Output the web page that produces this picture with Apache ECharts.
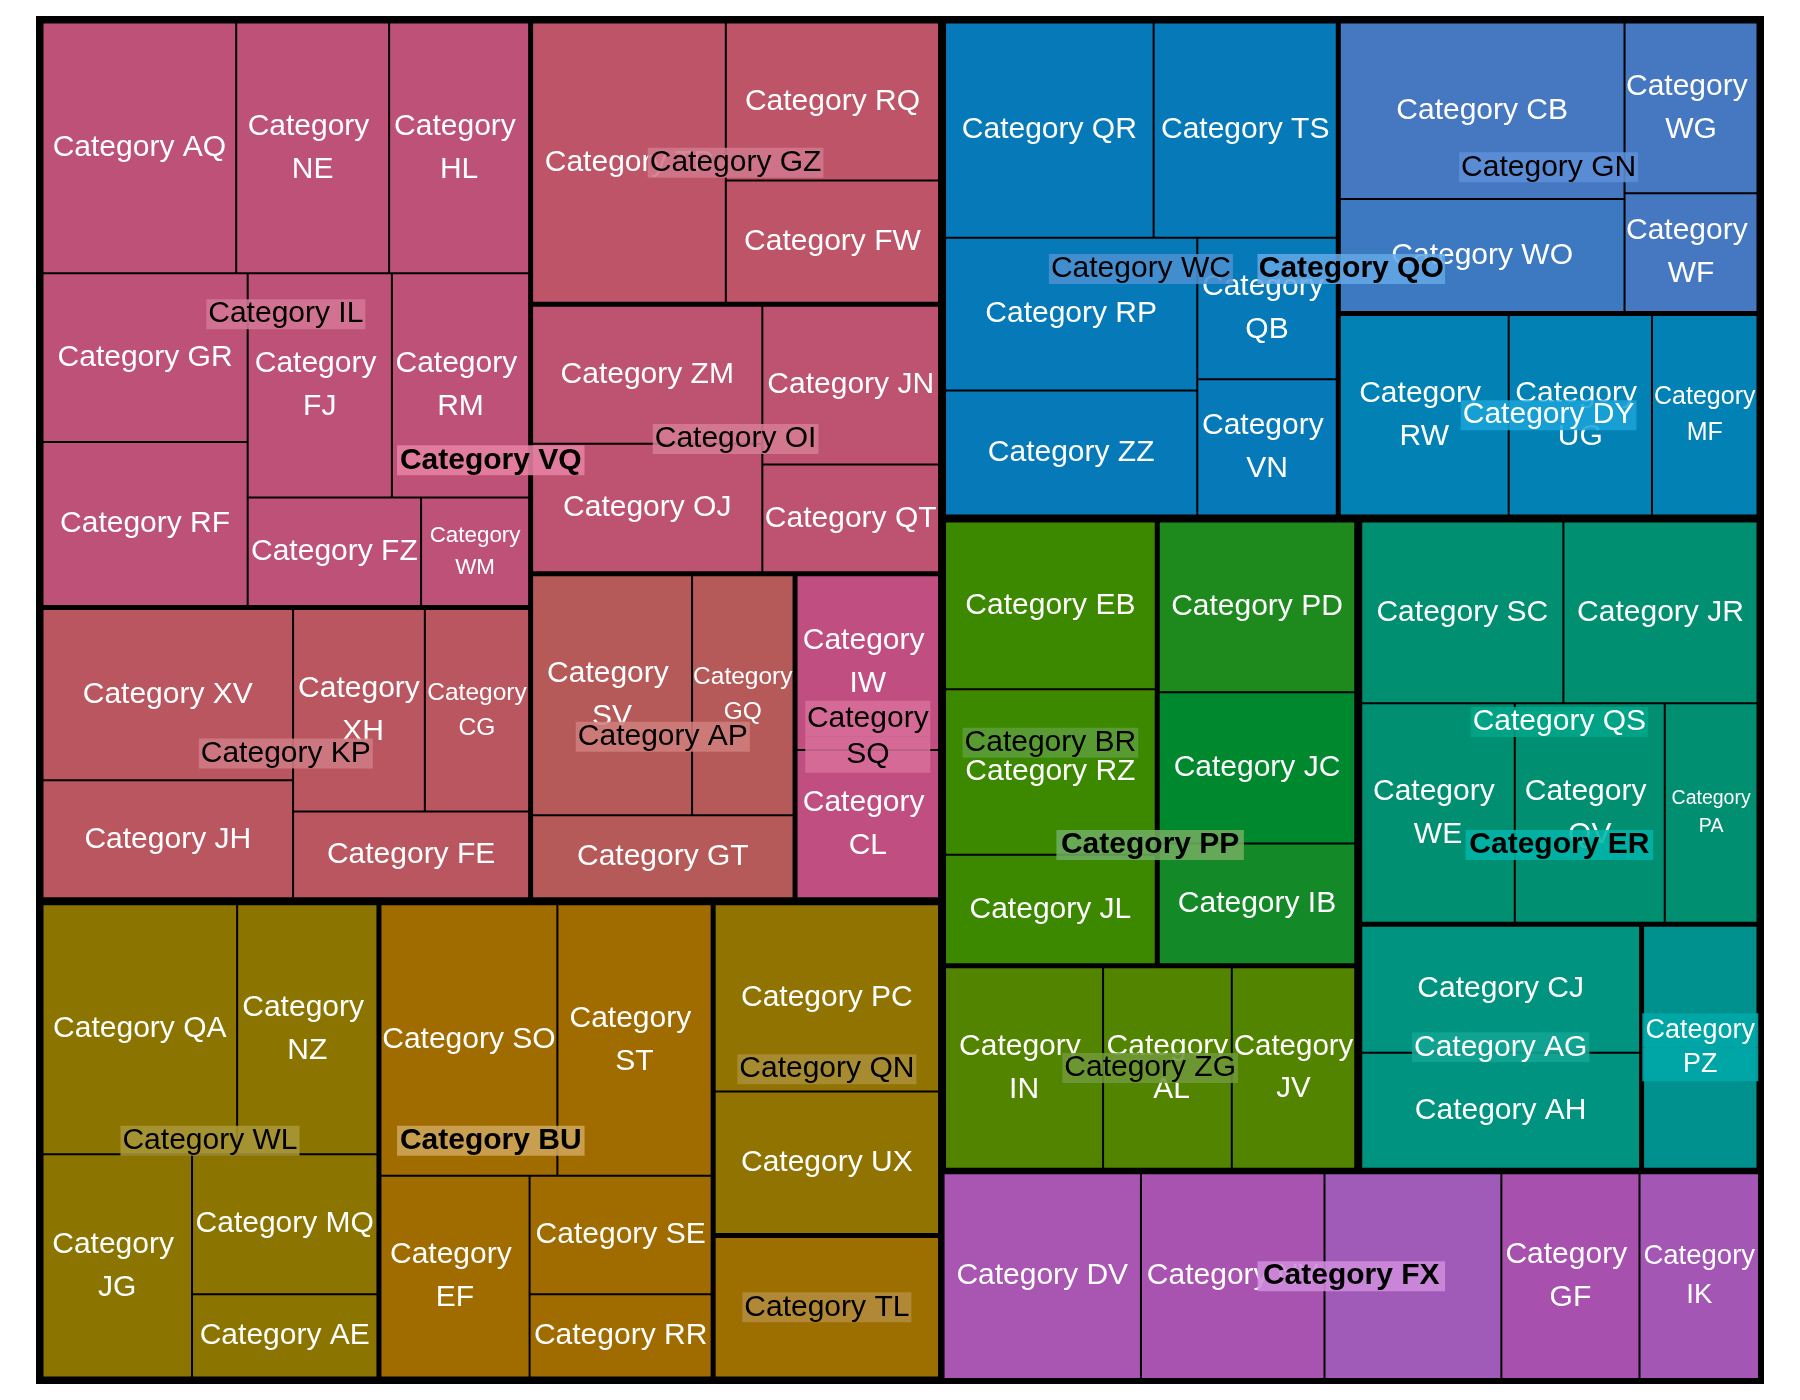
<!DOCTYPE html>
<html><head><meta charset="utf-8">
<script src="https://cdn.jsdelivr.net/npm/echarts@6/dist/echarts.min.js"></script>
<style>html,body{margin:0;padding:0;background:#fff}#c{width:1800px;height:1400px}</style>
</head><body><div id="c"></div>
<script>
// ---------------- DATA ----------------
const topNames = ['Category VQ','Category BU','Category QO','Category PP','Category ER','Category FX'];
const vqGroups = ['Category IL','Category GZ','Category OI','Category KP','Category AP','Category SQ'];
const buGroups = ['Category WL','Category HV','Category QN','Category TL'];
const qoGroups = ['Category WC','Category GN','Category DY'];
const ppGroups = ['Category BR','Category MK','Category ZG'];
const erGroups = ['Category QS','Category AG','Category PZ'];

const ilNames = ['Category AQ','Category NE','Category HL','Category GR','Category RF','Category FJ','Category RM','Category FZ','Category WM'];
const ilValues = [49.4,39.0,35.7,35.2,34.2,32.9,31.3,19.1,11.9];
const gzNames = ['Category TP','Category RQ','Category FW'];
const gzValues = [55.6,34.5,26.7];
const oiNames = ['Category ZM','Category OJ','Category JN','Category QT'];
const oiValues = [32.5,30.3,28.7,19.5];
const kpNames = ['Category XV','Category JH','Category XH','Category CG','Category FE'];
const kpValues = [43.9,30.2,27.3,21.6,20.9];
const apNames = ['Category SV','Category GQ','Category GT'];
const apValues = [39.4,25.0,22.3];
const sqNames = ['Category IW','Category CL'];
const sqValues = [25.8,21.9];
const wlNames = ['Category QA','Category NZ','Category JG','Category MQ','Category AE'];
const wlValues = [49.8,35.9,34.2,26.6,15.8];
const hvNames = ['Category SO','Category ST','Category EF','Category SE','Category RR'];
const hvValues = [49.2,42.9,30.8,22.1,15.5];
const qnNames = ['Category PC','Category UX'];
const qnValues = [43.3,33.0];
const tlNames = ['Category TL'];
const tlValues = [32.9];
const wcNames = ['Category QR','Category TS','Category RP','Category ZZ','Category QB','Category VN'];
const wcValues = [45.9,40.3,39.4,32.2,20.2,19.4];
const gnNames = ['Category CB','Category WO','Category WG','Category WF'];
const gnValues = [51.6,33.0,23.3,16.2];
const dyNames = ['Category RW','Category UG','Category MF'];
const dyValues = [34.9,29.6,21.8];
const brNames = ['Category EB','Category RZ','Category JL'];
const brValues = [36.5,36.0,23.8];
const mkNames = ['Category PD','Category JC','Category IB'];
const mkValues = [34.7,30.7,24.5];
const zgNames = ['Category IN','Category AL','Category JV'];
const zgValues = [32.9,26.8,25.7];
const qsNames = ['Category SC','Category JR','Category WE','Category QV','Category PA'];
const qsValues = [37.7,36.2,34.6,33.8,20.9];
const agNames = ['Category CJ','Category AH'];
const agValues = [36.6,33.5];
const pzNames = ['Category PZ'];
const pzValues = [29.2];
const fxNames = ['Category DV','Category NV','Category KW','Category GF','Category IK'];
const fxValues = [41.3,38.4,37.0,28.9,25.0];

// ---------------- STRUCTURE (built from the arrays) ----------------
const groupsOf = {
  'Category VQ': vqGroups, 'Category BU': buGroups, 'Category QO': qoGroups,
  'Category PP': ppGroups, 'Category ER': erGroups, 'Category FX': null
};
const leavesOf = {
  'Category IL': [ilNames, ilValues], 'Category GZ': [gzNames, gzValues], 'Category OI': [oiNames, oiValues],
  'Category KP': [kpNames, kpValues], 'Category AP': [apNames, apValues], 'Category SQ': [sqNames, sqValues],
  'Category WL': [wlNames, wlValues], 'Category HV': [hvNames, hvValues], 'Category QN': [qnNames, qnValues],
  'Category TL': [tlNames, tlValues], 'Category WC': [wcNames, wcValues], 'Category GN': [gnNames, gnValues],
  'Category DY': [dyNames, dyValues], 'Category BR': [brNames, brValues], 'Category MK': [mkNames, mkValues],
  'Category ZG': [zgNames, zgValues], 'Category QS': [qsNames, qsValues], 'Category AG': [agNames, agValues],
  'Category PZ': [pzNames, pzValues], 'Category FX': [fxNames, fxValues]
};

// ---------------- STYLES ----------------
const FONT = 'Liberation Sans';
const groupFill = {
  'Category IL':'#bd5177','Category GZ':'#bd5468','Category OI':'#bd5271','Category KP':'#ba5660',
  'Category AP':'#b55a58','Category SQ':'#c04e80',
  'Category WL':'#8b7500','Category HV':'#a06c00','Category QN':'#907300','Category TL':'#9c6f00',
  'Category WC':'#0679b9','Category GN':'#4677c1','Category DY':'#0281b4',
  'Category BR':'#3c8900','Category MK':'#1a8a22','Category ZG':'#528400',
  'Category QS':'#008f70','Category AG':'#00937f','Category PZ':'#00918e'
};
const leafFill = {
  'Category WO':'#3c79c0','Category JC':'#00882e','Category PD':'#1e8a1e','Category IB':'#138a27',
  'Category DV':'#a955b2','Category NV':'#a953b0','Category KW':'#a05ab8','Category GF':'#a750ad','Category IK':'#a456b4'
};
const boxFill = {
  'Category VQ':'rgba(230,130,165,0.88)','Category BU':'rgba(205,165,90,0.88)','Category QO':'rgba(98,166,228,0.88)',
  'Category PP':'rgba(112,172,96,0.88)','Category ER':'rgba(0,182,170,0.88)','Category FX':'rgba(206,140,220,0.88)',
  'Category IL':'rgba(212,118,150,0.88)','Category GZ':'rgba(210,120,140,0.88)','Category OI':'rgba(213,124,146,0.88)',
  'Category KP':'rgba(206,124,132,0.88)','Category AP':'rgba(207,126,124,0.88)','Category SQ':'rgba(216,110,154,0.88)',
  'Category WL':'rgba(168,150,56,0.88)','Category QN':'rgba(170,142,55,0.88)','Category TL':'rgba(180,140,60,0.88)',
  'Category WC':'rgba(74,144,207,0.88)','Category GN':'rgba(93,144,216,0.88)','Category DY':'rgba(26,163,216,0.88)',
  'Category BR':'rgba(92,157,58,0.88)','Category ZG':'rgba(110,152,56,0.88)',
  'Category QS':'rgba(0,166,136,0.88)','Category AG':'rgba(19,165,149,0.88)','Category PZ':'rgba(0,168,168,0.88)'
};
const whiteInk = new Set(['Category DY','Category QS','Category AG','Category PZ']);
// narrow cells: two-line label at a reduced size
const smallFont = {
  'Category WM':22.4,'Category CG':24.5,'Category GQ':24.5,'Category MF':25,'Category PA':19.5,
  'Category IK':27.5,'Category JV':29.5
};
const hiddenLeaf = new Set(['Category TL','Category PZ','Category KW']);
const hiddenGroup = new Set(['Category HV','Category MK']);
const twoLineGroup = {'Category SQ':{w:121,h:36,fs:30},'Category PZ':{w:112,h:34,fs:27}};

const RATIO = 1.234;
const sum = a => a.reduce((s, v) => s + v, 0);

function leafItem(name, value, fill, extraBorder) {
  const it = {name: name, value: value, itemStyle: {color: leafFill[name] || fill}};
  if (extraBorder) it.itemStyle.borderWidth = 1;
  const fs = smallFont[name];
  if (fs) it.label = {fontFamily: FONT, fontSize: fs, lineHeight: Math.round(fs * 1.42), padding: 0,
    overflow: 'none', formatter: name.replace(' ', '\n')};
  if (hiddenLeaf.has(name)) it.label = {show: false};
  return it;
}

// series 1: full hierarchy
const fullData = topNames.map(t => {
  const gs = groupsOf[t];
  if (!gs) {
    const [n, v] = leavesOf[t];
    return {name: t, children: n.map((x, i) => leafItem(x, v[i], null, true))};
  }
  return {name: t, children: gs.map(g => {
    const [n, v] = leavesOf[g];
    return {name: g, children: n.map((x, i) => leafItem(x, v[i], groupFill[g], false))};
  })};
});

function richLabel(name, bold) {
  const ink = whiteInk.has(name) ? '#fff' : '#000';
  const tl = twoLineGroup[name];
  const h = tl ? tl.h : 30;
  const r = {fontFamily: FONT, fontSize: tl ? tl.fs : 30, fontWeight: bold ? 'bold' : 'normal', color: ink,
    backgroundColor: boxFill[name], padding: [0, 2], height: h, lineHeight: h, align: 'center'};
  if (tl) r.width = tl.w;
  const parts = name.split(' ');
  return {show: true, padding: 0, verticalAlign: 'top', offset: [0, tl ? -h : -h / 2],
    formatter: tl ? '{a|' + parts[0] + '}\n{a|' + parts[1] + '}' : '{a|{b}}', rich: {a: r}};
}

// series 2: level-2 groups as leaves (labels only)
const groupData = topNames.map(t => {
  const gs = groupsOf[t];
  if (!gs) return {name: t, value: sum(leavesOf[t][1]), label: {show: false}};
  return {name: t, children: gs.map(g => ({name: g, value: sum(leavesOf[g][1]),
    label: hiddenGroup.has(g) ? {show: false} : richLabel(g, false)}))};
});

// series 3: top-level groups (labels only)
const topData = topNames.map(t => {
  const gs = groupsOf[t];
  const v = gs ? sum(gs.map(g => sum(leavesOf[g][1]))) : sum(leavesOf[t][1]);
  return {name: t, value: v, label: richLabel(t, true)};
});

function levels(visible) {
  const bc = visible ? '#000' : 'rgba(0,0,0,0)';
  return [3.5, 1.5, 1.5, 1].map(w => {
    const l = {itemStyle: {borderWidth: w, borderColor: bc, gapWidth: 0}};
    if (!visible) l.itemStyle.color = 'rgba(0,0,0,0)';
    return l;
  });
}
const base = {
  type: 'treemap', left: 36, top: 16, width: 1728, height: 1368,
  roam: false, nodeClick: false, breadcrumb: {show: false}, squareRatio: RATIO, sort: 'desc',
  visibleMin: 0, silent: true, animation: false, upperLabel: {show: false}
};

const chart = echarts.init(document.getElementById('c'), null, {renderer: 'canvas'});
chart.setOption({
  animation: false,
  textStyle: {fontFamily: FONT},
  series: [
    Object.assign({}, base, {z: 2, data: fullData, levels: levels(true),
      label: {show: true, color: '#fff', fontFamily: FONT, fontSize: 30, lineHeight: 43, overflow: 'break', padding: 0}}),
    Object.assign({}, base, {z: 3, data: groupData, levels: levels(false),
      label: {show: true, fontFamily: FONT, fontSize: 30, overflow: 'break', padding: 0}}),
    Object.assign({}, base, {z: 4, data: topData, levels: levels(false),
      label: {show: true, fontFamily: FONT, fontSize: 30, overflow: 'break', padding: 0}})
  ]
});
</script></body></html>
